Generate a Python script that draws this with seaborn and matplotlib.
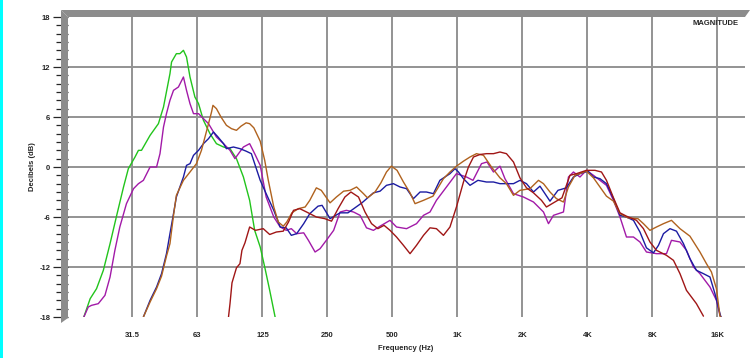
import numpy as np
import pandas as pd
import seaborn as sns
import matplotlib.pyplot as plt
from matplotlib.patches import Polygon, Rectangle

# Frequency response curves (Hz, dB)
green_hz = [18.6, 19.9, 21.3, 22.9, 24.6, 26.3, 28.4, 29.9, 32.1, 33.3, 34.4, 37.7, 41.2, 43.5, 46.6, 47.4,
            49.9, 51.8, 53.8, 55.6, 57.7, 60.8, 63.2, 66.6, 71.4, 76.5, 82.5, 88.4, 94.7, 102, 109, 115,
            122, 128, 135, 143]
green_db = [-18, -15.8, -14.6, -12.4, -9.2, -6.0, -2.4, -0.2, 1.2, 2.0, 2.0, 3.8, 5.2, 7.2, 11.2, 12.6,
            13.6, 13.6, 14.0, 13.2, 10.8, 8.4, 7.6, 5.6, 4.0, 2.8, 2.4, 2.2, 1.0, -1.2, -4.0, -7.6,
            -9.6, -12.0, -14.8, -18]

purple_hz = [18.6, 19.5, 20.2, 21.7, 23.3, 24.6, 25.9, 27.3, 29.3, 31.6,
             33.3, 35.1, 37.7, 40.4, 41.9, 43.5, 44.9, 46.6, 48.4, 51.0,
             53.8, 55.6, 57.7, 59.9, 63.2, 66.6, 70.3, 76.5, 82.5, 88.4,
             93.2, 96.8, 102, 109, 115, 122, 130, 141, 151, 161,
             170, 180, 194, 204, 219, 231, 247, 267, 286, 306,
             330, 354, 379, 408, 438, 487, 522, 581, 646, 696,
             746, 799, 889, 989, 1101, 1180, 1292, 1370, 1468, 1573,
             1659, 1817, 2021, 2249, 2502, 2639, 2783, 3096, 3266, 3444,
             3692, 3956, 4264, 4570, 4898, 5278, 5657, 6062, 6532, 7000,
             7502, 8349, 9288, 9797, 10728, 11494, 12385, 13272, 14768, 15826,
             16432, 16600]
purple_db = [-18, -16.8, -16.6, -16.4, -15.4, -13.2, -10.0, -7.2, -4.4, -2.6,
             -2.0, -1.6, 0.0, 0.0, 1.6, 4.8, 6.4, 8.0, 9.2, 9.6,
             10.8, 9.2, 7.6, 6.4, 6.4, 5.8, 5.2, 3.6, 2.8, 2.0,
             1.0, 1.6, 2.4, 2.8, 1.6, 0.2, -3.6, -6.0, -7.2, -7.6,
             -7.4, -8.0, -7.9, -8.8, -10.2, -9.8, -8.8, -7.6, -5.4, -5.2,
             -5.4, -5.8, -7.3, -7.6, -7.1, -6.4, -7.2, -7.4, -6.8, -5.8,
             -5.4, -4.0, -2.4, -0.8, -1.2, -1.6, 0.4, 0.6, -0.6, 0.1,
             -1.4, -3.2, -3.6, -4.2, -5.4, -6.8, -5.8, -5.4, -1.2, -0.6,
             -1.2, -0.4, -1.0, -1.6, -2.2, -4.0, -6.0, -8.4, -8.4, -9.0,
             -10.2, -10.4, -10.4, -8.8, -9.0, -10.0, -12.0, -12.8, -14.4, -16.0,
             -17.8, -18.0]

blue_hz = [35.1, 37.7, 40.4, 42.6, 44.9, 46.6, 48.4, 49.9, 51.8, 53.8,
           55.6, 57.7, 59.9, 63.2, 66.6, 70.3, 74.1, 77.8, 82.5, 85.1,
           91.7, 98.3, 105, 111, 115, 122, 130, 141, 151, 161,
           170, 180, 194, 207, 226, 236, 257, 286, 311, 335,
           361, 408, 438, 469, 505, 542, 581, 625, 671, 718,
           774, 829, 923, 974, 1011, 1066, 1143, 1244, 1362, 1468,
           1573, 1686, 1817, 1947, 2087, 2249, 2410, 2682, 2920, 3196,
           3444, 3692, 4022, 4264, 4570, 4898, 5278, 5657, 6062, 6532,
           7000, 7502, 8086, 8528, 8995, 9640, 10333, 11134, 11928, 12784,
           13778, 14768, 15576, 16432, 16600]
blue_db = [-18.0, -16.0, -14.4, -12.8, -10.4, -8.0, -5.6, -3.6, -2.4, -1.2,
           0.2, 0.4, 1.4, 2.0, 2.8, 3.4, 4.2, 3.6, 2.8, 2.2,
           2.4, 2.2, 1.9, 1.6, 0.4, -1.6, -3.2, -5.2, -7.2, -7.3,
           -8.2, -8.0, -6.8, -5.6, -4.7, -4.6, -6.2, -5.5, -5.5, -4.9,
           -4.3, -3.1, -2.9, -2.2, -2.0, -2.4, -2.6, -3.8, -3.0, -3.0,
           -3.2, -1.6, -0.8, -0.2, -0.6, -1.4, -2.2, -1.6, -1.8, -1.8,
           -2.0, -2.0, -2.0, -1.6, -2.0, -3.0, -2.3, -4.1, -2.8, -2.5,
           -1.2, -0.8, -0.5, -1.2, -1.4, -2.0, -3.8, -5.8, -6.0, -6.4,
           -7.8, -9.7, -10.3, -9.4, -8.0, -7.4, -7.7, -9.2, -11.0, -12.4,
           -12.8, -13.2, -15.2, -17.6, -18.0]

brown_hz = [35.1, 37.7, 40.4, 42.6, 44.9, 46.6, 48.4, 49.9, 51.8, 53.8,
            57.7, 61.8, 65.2, 67.7, 70.3, 72.6, 73.7, 76.5, 80.3, 85.1,
            89.8, 94.7, 99.4, 105, 109, 114, 122, 128, 133, 141,
            148, 156, 162, 171, 183, 197, 207, 222, 234, 257,
            275, 297, 318, 341, 367, 383, 415, 442, 469, 494,
            525, 562, 603, 636, 696, 770, 861, 923, 989, 1066,
            1143, 1225, 1320, 1437, 1573, 1686, 1817, 1947, 2166, 2372,
            2502, 2682, 2874, 3096, 3266, 3500, 3956, 4264, 4570, 4898,
            5278, 5657, 6160, 6852, 7266, 7788, 8349, 8995, 9797, 10728,
            11928, 13272, 14226, 15004, 15826, 16432, 16600]
brown_db = [-18.0, -16.2, -14.6, -13.1, -10.7, -9.2, -5.8, -3.4, -2.5, -1.6,
            -0.6, 0.4, 2.0, 3.6, 5.2, 6.6, 7.4, 7.0, 6.0, 5.0,
            4.6, 4.4, 4.9, 5.3, 5.2, 4.7, 3.1, 0.8, -1.6, -4.8,
            -6.6, -7.1, -6.6, -5.5, -5.0, -4.8, -4.0, -2.5, -2.8, -4.3,
            -3.6, -2.9, -2.8, -2.4, -3.2, -3.7, -3.0, -1.9, -0.6, 0.1,
            -0.4, -1.8, -3.1, -4.4, -4.0, -3.5, -1.4, -0.6, 0.1, 0.7,
            1.2, 1.6, 1.4, 0.0, -1.3, -2.0, -3.4, -2.8, -2.6, -1.6,
            -2.0, -3.0, -3.8, -4.2, -2.4, -1.0, -0.5, -1.3, -2.4, -3.5,
            -4.1, -5.6, -6.1, -6.2, -6.8, -7.6, -7.2, -6.8, -6.4, -7.4,
            -8.3, -10.2, -11.6, -12.6, -14.6, -17.9, -18.0]

red_hz = [87.0, 88.4, 90.3, 94.7, 98.3, 100.4, 103.7, 109, 116, 126,
          135, 145, 156, 165, 174, 186, 200, 222, 243, 261,
          280, 301, 321, 348, 373, 400, 428, 457, 487, 522,
          562, 603, 646, 696, 746, 799, 861, 923, 989, 1066,
          1124, 1186, 1271, 1362, 1468, 1573, 1686, 1817, 1947, 2087,
          2249, 2449, 2583, 2783, 3048, 3318, 3556, 3956, 4332, 4644,
          4898, 5278, 5657, 6062, 6744, 7266, 7788, 8349, 9288, 10007,
          10728, 11494, 12784, 13778]
red_db = [-18.0, -16.4, -13.9, -12.1, -11.6, -10.0, -9.1, -7.2, -7.6, -7.4,
          -8.1, -7.8, -7.7, -6.6, -5.2, -5.0, -5.4, -6.0, -6.2, -6.5,
          -5.0, -3.6, -3.0, -3.6, -5.4, -6.8, -7.4, -7.0, -7.6, -8.4,
          -9.4, -10.4, -9.4, -8.2, -7.3, -7.4, -8.2, -7.2, -4.8, -1.8,
          0.0, 1.2, 1.5, 1.6, 1.6, 1.8, 1.6, 0.6, -1.3, -2.5,
          -3.1, -4.0, -4.8, -4.3, -3.7, -1.0, -0.8, -0.4, -0.4, -0.6,
          -1.6, -3.7, -5.5, -5.9, -6.4, -7.4, -9.0, -10.0, -10.6, -11.2,
          -12.8, -14.8, -16.4, -17.9]

freq_ticks = [31.25, 62.5, 125, 250, 500, 1000, 2000, 4000, 8000, 16000]
freq_labels = ['31.5', '63', '125', '250', '500', '1K', '2K', '4K', '8K', '16K']
db_ticks = [-18, -12, -6, 0, 6, 12, 18]

curves = {'green': (green_hz, green_db), 'purple': (purple_hz, purple_db),
          'blue': (blue_hz, blue_db), 'brown': (brown_hz, brown_db), 'red': (red_hz, red_db)}
colors = {'green': '#22c41c', 'purple': '#a21aa8', 'blue': '#1c1ca2',
          'brown': '#b0621e', 'red': '#a01616'}

rows = []
for name, (hz, db) in curves.items():
    for f, d in zip(hz, db):
        rows.append({'curve': name, 'freq': f, 'db': d})
df = pd.DataFrame(rows)

##########################################################################################

sns.set_style('white')
plt.rcParams['font.family'] = ['Liberation Sans', 'DejaVu Sans']

W, H = 750, 358
fig = plt.figure(figsize=(7.5, 3.58), dpi=100)
fig.patch.set_facecolor('white')
ax = fig.add_axes([68 / W, 1 - 317 / H, 677 / W, 300 / H])

grid_kw = dict(color='#939393', lw=1.4, zorder=0)
for f in freq_ticks:
    ax.axvline(f, **grid_kw)
for d in db_ticks[1:-1]:
    ax.axhline(d, **grid_kw)

sns.lineplot(data=df, x='freq', y='db', hue='curve', palette=colors, estimator=None,
             sort=False, legend=False, lw=1.0, ax=ax, zorder=3)

ax.set_xscale('log', base=2)
ax.set_xlim(15.71, 21460)
ax.set_ylim(-18, 18)
for s in ax.spines.values():
    s.set_visible(False)

ax.set_xticks(freq_ticks)
ax.set_xticklabels(freq_labels)
ax.xaxis.set_minor_locator(plt.NullLocator())
ax.tick_params(axis='x', length=0, pad=11, labelsize=5.5)
ax.set_yticks(db_ticks)
ax.set_yticklabels([str(v) for v in db_ticks])
ax.set_yticks(np.arange(-18, 19, 1), minor=True)
ax.tick_params(axis='y', which='major', direction='out', length=10.8, width=0.9,
               pad=2, labelsize=5.5, left=True)
ax.tick_params(axis='y', which='minor', direction='out', length=8.6, width=0.9, left=True)
for lab in ax.get_xticklabels() + ax.get_yticklabels():
    lab.set_fontweight('bold')
ax.set_xlabel('')
ax.set_ylabel('')

ax.text(0.99, 0.977, 'MAGNITUDE', transform=ax.transAxes, ha='right', va='center',
        fontsize=5.5, fontweight='bold')
fig.text(406 / W, 1 - 349 / H, 'Frequency (Hz)', ha='center', va='center',
         fontsize=5.5, fontweight='bold')
fig.text(33 / W, 1 - 167 / H, 'Decibels (dB)', ha='center', va='center', rotation=90,
         fontsize=5.5, fontweight='bold')

# 3D-style frame band along top and left, and cyan edge strip
def px(pts):
    return [(x / W, 1 - y / H) for x, y in pts]

band = '#8c8c8c'
fig.patches.append(Polygon(px([(61, 10), (750, 10), (745, 17), (68, 17)]), closed=True,
                           facecolor=band, edgecolor='none', transform=fig.transFigure, zorder=5))
fig.patches.append(Polygon(px([(61, 10), (68, 17), (68, 318), (61, 323)]), closed=True,
                           facecolor=band, edgecolor='none', transform=fig.transFigure, zorder=5))
fig.patches.append(Rectangle((0, 0), 2.5 / W, 1, facecolor='#00ffff', edgecolor='none',
                             transform=fig.transFigure, zorder=5))

fig.savefig('out.png', dpi=100)
